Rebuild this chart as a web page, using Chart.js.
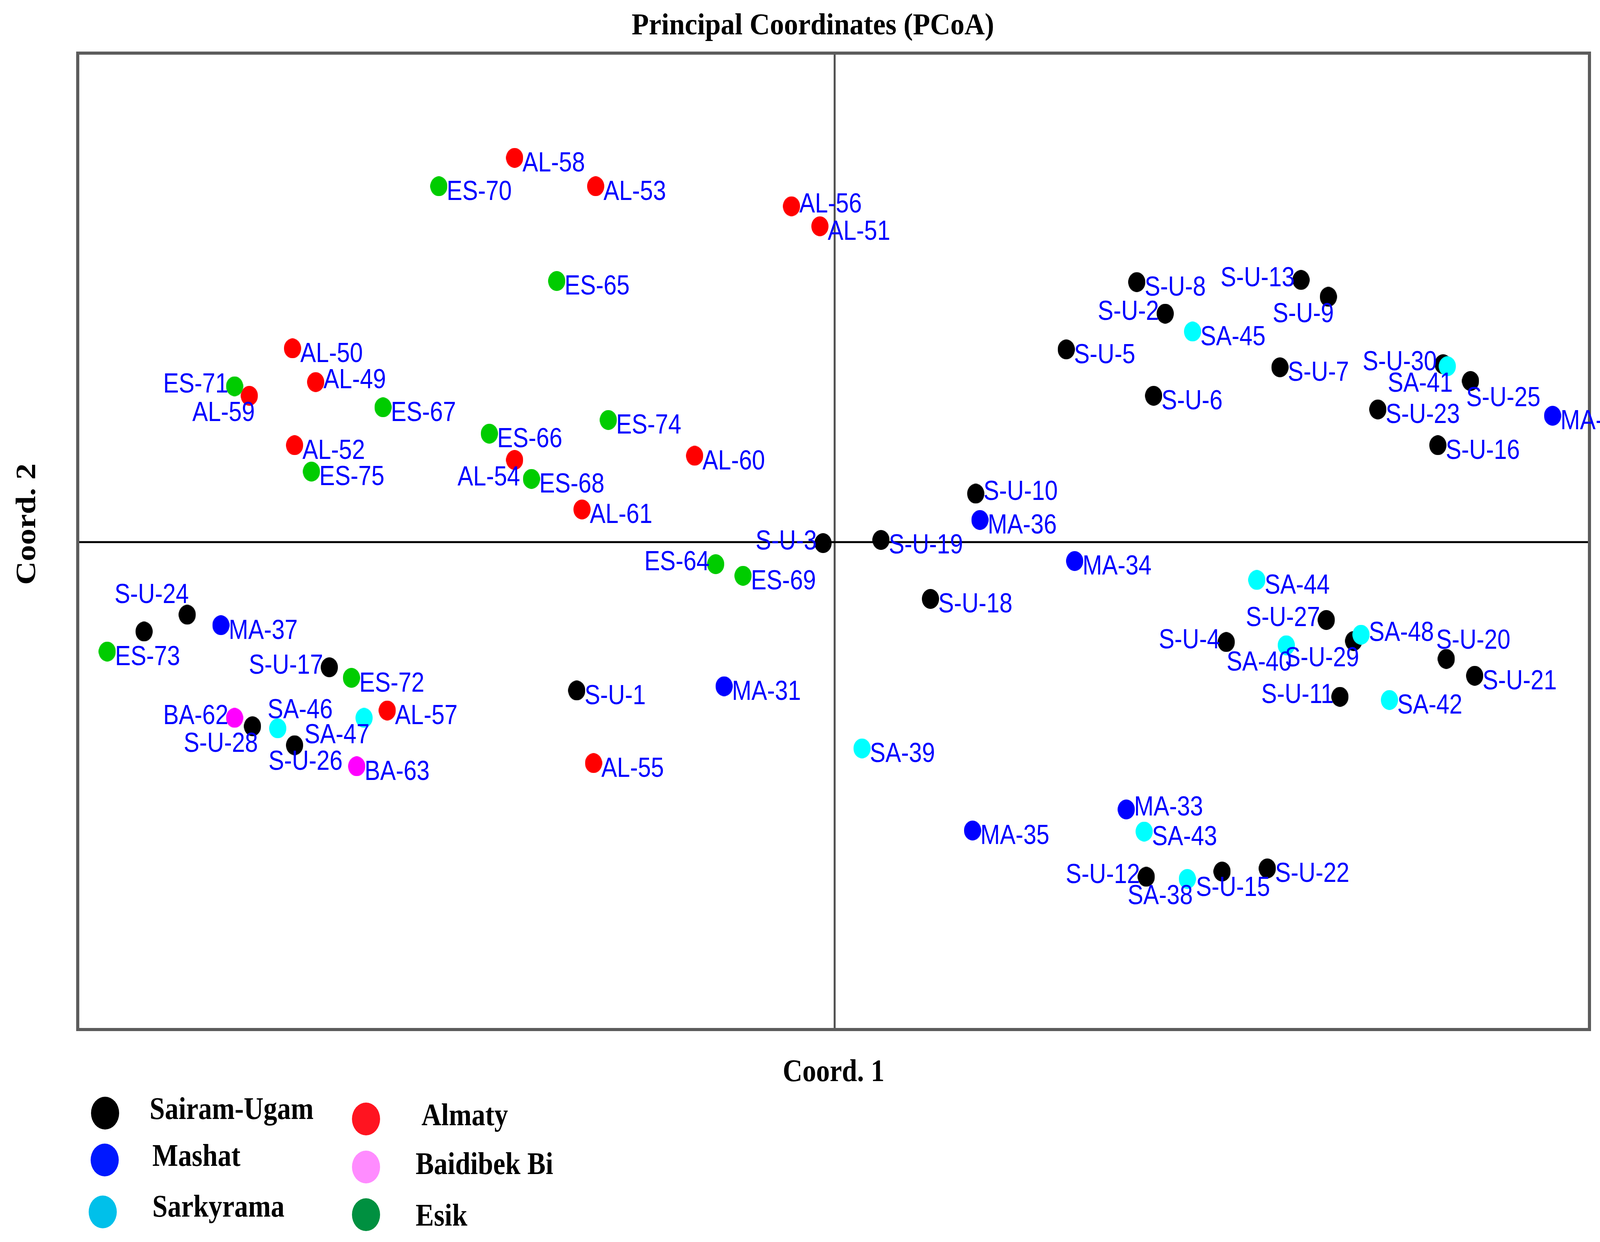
<!DOCTYPE html>
<html>
<head>
<meta charset="utf-8">
<script src="https://cdn.jsdelivr.net/npm/chart.js@4.4.0/dist/chart.umd.min.js"></script>
<style>
  html, body { margin: 0; padding: 0; background: #ffffff; }
  canvas { display: block; }
</style>
</head>
<body>
<canvas id="c" width="4218" height="3180" style="width:4218px;height:3180px"></canvas>
<script>
// ---------------- DATA ----------------
const groupNames = ['Sairam-Ugam', 'Mashat', 'Sarkyrama', 'Almaty', 'Baidibek Bi', 'Esik'];

const suNames = ['S-U-1','S-U-2','S-U-3','S-U-4','S-U-5','S-U-6','S-U-7','S-U-8','S-U-9','S-U-10',
                 'S-U-11','S-U-12','S-U-13','S-U-14','S-U-15','S-U-16','S-U-17','S-U-18','S-U-19','S-U-20',
                 'S-U-21','S-U-22','S-U-23','S-U-24','S-U-25','S-U-26','S-U-27','S-U-28','S-U-29','S-U-30'];
const suX = [-0.245, 0.314, -0.011, 0.372, 0.220, 0.303, 0.423, 0.287, 0.469, 0.134,
              0.480, 0.296, 0.443, -0.656, 0.368, 0.573, -0.480, 0.091, 0.044, 0.581,
              0.608, 0.411, 0.516, -0.615, 0.604, -0.513, 0.467, -0.553, 0.493, 0.578];
const suY = [-0.141, 0.217, -0.001, -0.095, 0.183, 0.139, 0.166, 0.247, 0.233, 0.046,
             -0.147, -0.318, 0.249, -0.085, -0.313, 0.092, -0.119, -0.054, 0.002, -0.111,
             -0.127, -0.310, 0.126, -0.069, 0.153, -0.193, -0.074, -0.175, -0.094, 0.169];

const maNames = ['MA-31','MA-32','MA-33','MA-34','MA-35','MA-36','MA-37'];
const maX = [-0.105, 0.682, 0.277, 0.228, 0.131, 0.138, -0.583];
const maY = [-0.137, 0.120, -0.254, -0.018, -0.274, 0.021, -0.079];

const saNames = ['SA-38','SA-39','SA-40','SA-41','SA-42','SA-43','SA-44','SA-45','SA-46','SA-47','SA-48'];
const saX = [0.335, 0.026, 0.429, 0.582, 0.527, 0.294, 0.401, 0.340, -0.529, -0.447, 0.500];
const saY = [-0.320, -0.196, -0.098, 0.167, -0.150, -0.275, -0.036, 0.200, -0.177, -0.167, -0.088];

const alNames = ['AL-49','AL-50','AL-51','AL-52','AL-53','AL-54','AL-55','AL-56','AL-57','AL-58','AL-59','AL-60','AL-61'];
const alX = [-0.493, -0.515, -0.014, -0.513, -0.227, -0.304, -0.229, -0.041, -0.425, -0.304, -0.556, -0.133, -0.240];
const alY = [0.152, 0.184, 0.300, 0.092, 0.338, 0.078, -0.210, 0.319, -0.160, 0.365, 0.139, 0.082, 0.031];

const baNames = ['BA-62','BA-63'];
const baX = [-0.570, -0.454];
const baY = [-0.167, -0.213];

const esNames = ['ES-64','ES-65','ES-66','ES-67','ES-68','ES-69','ES-70','ES-71','ES-72','ES-73','ES-74','ES-75'];
const esX = [-0.113, -0.264, -0.328, -0.429, -0.288, -0.087, -0.376, -0.570, -0.459, -0.691, -0.215, -0.497];
const esY = [-0.021, 0.248, 0.103, 0.128, 0.060, -0.032, 0.338, 0.148, -0.129, -0.104, 0.116, 0.067];

// axis limits (no ticks shown)
const xLimits = [-0.719, 0.717];
const yLimits = [-0.4631, 0.4645];

// ---------------- STYLE ----------------
const pointColors  = ['#000000', '#0000ff', '#00ffff', '#ff0000', '#ff00ff', '#00cc00'];
const legendColors = ['#000000', '#0018ff', '#00c0ea', '#ff1420', '#ff8cff', '#009040'];

// label placement codes (default 'r' = right of the point)
const labelPlace = {
  'S-U-2':'l','S-U-13':'l','S-U-30':'l','S-U-3':'l','ES-64':'l','S-U-17':'l','BA-62':'l',
  'S-U-27':'l','S-U-4':'l','S-U-11':'l','S-U-12':'l','ES-71':'l',
  'AL-59':'bl','S-U-9':'bl','SA-41':'bl','AL-54':'bl','S-U-28':'bl','SA-47':'bl','SA-40':'bl',
  'S-U-29':'bl','SA-38':'bl',
  'S-U-25':'b','S-U-26':'bc','S-U-15':'bc','S-U-24':'tl','SA-46':'tr','S-U-20':'tr',
  'AL-56':'ru','SA-48':'ru','MA-33':'ru','AL-49':'ru','S-U-10':'ru',
  'S-U-14':'none'
};
const placeOffsets = {
  r:  {align:'left',   dx: 20, dy:  9},
  ru: {align:'left',   dx: 20, dy: -10},
  l:  {align:'right',  dx:-16, dy: -10},
  bl: {align:'right',  dx: 14, dy: 39},
  b:  {align:'left',   dx:-11, dy: 38},
  bc: {align:'center', dx: 28, dy: 37},
  tl: {align:'right',  dx:  4, dy: -56},
  tr: {align:'left',   dx:-26, dy: -52}
};

function makeDot(color, w, h) {
  const c = document.createElement('canvas');
  c.width = w; c.height = h;
  const g = c.getContext('2d');
  g.fillStyle = color;
  g.beginPath();
  g.ellipse(w / 2, h / 2, w / 2, h / 2, 0, 0, Math.PI * 2);
  g.fill();
  return c;
}

function toPoints(names, xs, ys) {
  return names.map((n, i) => ({ x: xs[i], y: ys[i], label: n }));
}

const groups = [
  toPoints(suNames, suX, suY),
  toPoints(maNames, maX, maY),
  toPoints(saNames, saX, saY),
  toPoints(alNames, alX, alY),
  toPoints(baNames, baX, baY),
  toPoints(esNames, esX, esY)
];

const datasets = groups.map((pts, gi) => ({
  label: groupNames[gi],
  data: pts,
  pointStyle: makeDot(pointColors[gi], 44, 51),
  pointRadius: 23,
  pointHoverRadius: 23,
  backgroundColor: pointColors[gi],
  borderColor: pointColors[gi],
  showLine: false,
  order: 6 - gi
}));

function drawText(ctx, text, x, y, font, color, align, sx, sy) {
  ctx.save();
  ctx.translate(x, y);
  ctx.scale(sx, sy);
  ctx.font = font;
  ctx.fillStyle = color;
  ctx.textAlign = align;
  ctx.textBaseline = 'alphabetic';
  ctx.fillText(text, 0, 0);
  ctx.restore();
}

const framePlugin = {
  id: 'framePlugin',
  beforeDatasetsDraw(chart) {
    const ctx = chart.ctx;
    const a = chart.chartArea;
    const xs = chart.scales.x, ys = chart.scales.y;
    const x0 = xs.getPixelForValue(0), y0 = ys.getPixelForValue(0);
    ctx.save();
    // zero lines
    ctx.lineWidth = 5;
    ctx.strokeStyle = '#505050';
    ctx.beginPath(); ctx.moveTo(x0, a.top); ctx.lineTo(x0, a.bottom); ctx.stroke();
    ctx.strokeStyle = '#000000';
    ctx.beginPath(); ctx.moveTo(a.left, y0); ctx.lineTo(a.right, y0); ctx.stroke();
    // frame
    ctx.lineWidth = 8;
    ctx.strokeStyle = '#5c5c5c';
    ctx.strokeRect(a.left, a.top, a.right - a.left, a.bottom - a.top);
    ctx.restore();
  },
  afterDatasetsDraw(chart) {
    const ctx = chart.ctx;
    chart.data.datasets.forEach((ds, di) => {
      const meta = chart.getDatasetMeta(di);
      meta.data.forEach((el, i) => {
        const name = ds.data[i].label;
        const code = labelPlace[name] || 'r';
        if (code === 'none') return;
        const o = placeOffsets[code];
        drawText(ctx, name, el.x + o.dx, el.y + o.dy + 26,
                 '60px "Liberation Sans", Arial, sans-serif', '#0000ff', o.align, 1, 1.16);
      });
    });
  },
  afterDraw(chart) {
    const ctx = chart.ctx;
    const serif = 'bold 72px "Liberation Serif", "Times New Roman", serif';
    const a = chart.chartArea;
    // title
    drawText(ctx, 'Principal Coordinates (PCoA)', 2081, 88, serif, '#000000', 'center', 1, 1.1);
    // x axis title
    drawText(ctx, 'Coord. 1', (a.left + a.right) / 2, 2768, 'bold 70px "Liberation Serif", "Times New Roman", serif', '#000000', 'center', 1, 1.16);
    // y axis title (rotated)
    ctx.save();
    ctx.translate(90, 1342);
    ctx.rotate(-Math.PI / 2);
    ctx.scale(1.16, 1);
    ctx.font = 'bold 72px "Liberation Serif", "Times New Roman", serif';
    ctx.fillStyle = '#000000';
    ctx.textAlign = 'center';
    ctx.textBaseline = 'alphabetic';
    ctx.fillText('Coord. 2', 0, 0);
    ctx.restore();
    // legend (two columns)
    const legendItems = [
      {mx: 269, my: 2850, tx: 383,  ty: 2865},
      {mx: 268, my: 2970, tx: 390,  ty: 2985},
      {mx: 263, my: 3103, tx: 390,  ty: 3115},
      {mx: 937, my: 2865, tx: 1079, ty: 2881},
      {mx: 937, my: 2988, tx: 1064, ty: 3006},
      {mx: 937, my: 3110, tx: 1064, ty: 3138}
    ];
    legendItems.forEach((it, gi) => {
      ctx.save();
      ctx.fillStyle = legendColors[gi];
      ctx.beginPath();
      ctx.ellipse(it.mx, it.my, 36, 42, 0, 0, Math.PI * 2);
      ctx.fill();
      ctx.restore();
      drawText(ctx, groupNames[gi], it.tx, it.ty, 'bold 70px "Liberation Serif", "Times New Roman", serif', '#000000', 'left', 1, 1.16);
    });
  }
};

new Chart(document.getElementById('c'), {
  type: 'scatter',
  data: { datasets: datasets },
  options: {
    responsive: false,
    devicePixelRatio: 1,
    animation: false,
    layout: { padding: { left: 199, right: 149, top: 136, bottom: 544 } },
    scales: {
      x: { type: 'linear', min: xLimits[0], max: xLimits[1], display: false },
      y: { type: 'linear', min: yLimits[0], max: yLimits[1], display: false }
    },
    plugins: {
      legend: { display: false },
      title: { display: false },
      tooltip: { enabled: false }
    }
  },
  plugins: [framePlugin]
});
</script>
</body>
</html>
